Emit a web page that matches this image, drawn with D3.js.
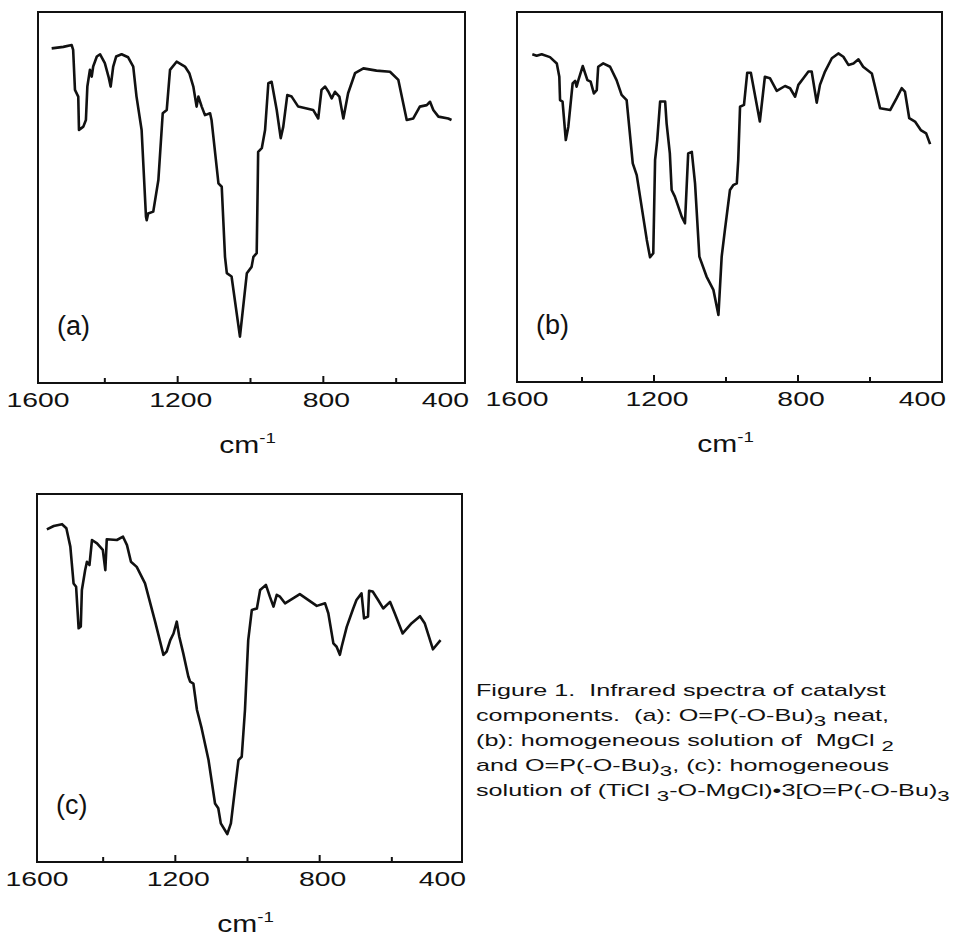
<!DOCTYPE html>
<html>
<head>
<meta charset="utf-8">
<script src="https://cdn.jsdelivr.net/npm/d3@7"></script>
<style>
  body { margin: 0; background: #fff; }
  text { font-family: "Liberation Sans", Arial, Helvetica, sans-serif; fill: #111; white-space: pre; }
</style>
</head>
<body>
<div id="chart"></div>
<script>
// IR spectra: wavenumber (cm-1) and relative transmittance (0-100)
var wnA = [1546,1514,1491,1487,1482,1473,1471,1459,1452,1448,1441,1436,1432,1422,1413,1400,1390,1384,1377,1369,1354,1336,1322,1313,1299,1287,1285,1281,1267,1253,1241,1230,1221,1203,1180,1168,1157,1148,1143,1134,1125,1111,1107,1088,1079,1070,1065,1052,1029,1010,997,992,983,980,979,969,960,951,942,928,917,910,899,887,869,828,814,805,795,786,777,768,756,745,732,713,690,654,617,594,571,553,535,516,507,498,484,457,448];
var tA = [90.2,90.6,91.1,89.8,79.0,77.2,68.2,69.1,70.9,79.9,84.4,82.6,85.3,88.0,88.6,86.2,82.6,79.9,85.3,88.0,88.6,87.8,85.3,77.2,68.2,44.8,43.9,45.7,46.2,54.7,72.7,73.6,84.4,86.6,85.3,83.5,79.9,74.5,77.2,74.5,72.2,72.7,70.9,53.8,52.9,34.0,29.6,28.7,12.5,29.6,31.3,34.0,35.0,54.7,62.3,63.3,68.2,80.8,81.2,73.6,66.0,69.1,77.6,77.2,74.5,73.6,71.3,79.0,79.9,78.5,76.7,78.5,77.2,71.3,78.1,83.5,84.8,84.2,83.9,81.7,70.9,71.3,74.5,74.9,75.8,73.6,71.8,71.3,70.9];

var wnB = [1538,1526,1512,1489,1470,1463,1461,1454,1445,1438,1426,1419,1415,1410,1398,1385,1376,1367,1359,1355,1341,1322,1304,1290,1276,1259,1248,1220,1211,1202,1197,1191,1183,1169,1165,1156,1151,1142,1123,1114,1105,1095,1086,1074,1054,1035,1021,1012,1003,989,980,970,966,961,950,941,931,906,892,878,859,836,822,808,799,785,771,762,753,748,739,725,706,688,674,660,646,632,619,595,586,572,544,526,512,503,491,475,459,444,433];
var tB = [88.6,88.2,88.6,87.8,86.1,82.5,76.2,75.8,65.4,69.0,80.7,81.4,79.8,81.6,85.4,81.6,81.2,78.0,78.9,85.2,86.1,85.2,81.6,77.6,76.2,59.1,55.9,38.4,33.7,34.8,60,65.4,75.8,75.8,69.9,61.8,51.9,50.1,44.7,42.9,61.8,62.2,53.7,33.9,28.5,24.9,18.1,33.9,41.1,51.9,53.2,53.7,60,74.4,74.9,83.6,83.6,70.4,82.5,82.1,78.7,80,79.4,77.1,80.3,82.1,83.9,83.9,78.5,75.5,80.3,83.9,87.5,88.8,87.9,85.7,86.1,87.2,85.2,83.4,79.8,74.0,73.5,76.7,79.4,78.5,71.3,70.4,68.1,67.2,64.3];

var wnC = [1556,1537,1514,1502,1491,1482,1475,1468,1462,1459,1450,1445,1438,1431,1417,1401,1394,1390,1362,1345,1334,1323,1307,1284,1256,1233,1224,1214,1205,1196,1189,1178,1164,1159,1150,1140,1127,1108,1090,1081,1074,1056,1046,1035,1025,1016,1007,998,988,974,965,949,938,928,919,910,896,855,808,785,776,762,753,744,739,725,707,698,684,677,666,663,653,638,624,605,592,570,545,522,509,486,465];
var tC = [90.4,91.3,91.8,90.7,85.7,75.7,74.8,63.5,64.0,73.9,79.3,81.6,80.7,87.5,86.6,84.8,79.3,87.7,87.5,88.4,86.1,81.6,80.2,75.7,65.3,56.3,57.2,60.3,62.1,65.3,61.2,56.7,50.4,49.0,48.5,41.3,36.3,27.7,15.9,14.6,10.5,7.6,10.5,19.6,27.7,28.6,41.3,60.3,68.5,68.9,73.9,75.3,72.1,69.4,72.6,72.1,70.3,72.8,69.6,70.3,67.6,59.4,58.5,56.3,58.5,63.9,68.9,71.2,73.0,66.2,66.7,73.7,73.5,71.2,68.9,70.7,67.6,62.1,64.9,66.8,64.9,57.8,60.3];

var tickValues = [1400, 1200, 1000, 800, 600];
var tickLabels = ["1600", "1200", "800", "400"];
var panelNames = ["(a)", "(b)", "(c)"];

// Set the dimensions of the canvas
var width = 954, height = 942;

// panel frames (pixels) and where 1600 / 400 cm-1 fall
var panels = [
  {name: panelNames[0], wn: wnA, t: tA, left: 38,  right: 465, top: 12,  bottom: 383, r0: 32,  r1: 469},
  {name: panelNames[1], wn: wnB, t: tB, left: 517, right: 942, top: 12,  bottom: 382, r0: 510, r1: 942},
  {name: panelNames[2], wn: wnC, t: tC, left: 37,  right: 462, top: 494, bottom: 862, r0: 31,  r1: 464}
];

var svg = d3.select("#chart")
  .append("svg")
    .attr("width", width)
    .attr("height", height);

svg.append("rect")
    .attr("width", width)
    .attr("height", height)
    .attr("fill", "#fff");

panels.forEach(function(p) {
  var x = d3.scaleLinear().domain([1600, 400]).range([p.r0, p.r1]);
  var y = d3.scaleLinear().domain([0, 100]).range([p.bottom, p.top]);

  var g = svg.append("g");

  // frame
  g.append("rect")
      .attr("x", p.left)
      .attr("y", p.top)
      .attr("width", p.right - p.left)
      .attr("height", p.bottom - p.top)
      .attr("fill", "none")
      .attr("stroke", "#111")
      .attr("stroke-width", 2);

  // ticks point up into the frame
  g.selectAll("line.tick")
    .data(tickValues)
    .enter().append("line")
      .attr("class", "tick")
      .attr("x1", function(d) { return x(d); })
      .attr("x2", function(d) { return x(d); })
      .attr("y1", p.bottom)
      .attr("y2", function(d) { return p.bottom - (d % 400 === 0 ? 7 : 5); })
      .attr("stroke", "#111")
      .attr("stroke-width", 2);

  // tick labels: 1600 at the left edge, 400 flush right
  g.selectAll("text.tl")
    .data(tickLabels)
    .enter().append("text")
      .attr("class", "tl")
      .attr("transform", function(d) {
        var px = d === "1600" ? p.left : d === "400" ? p.right + 4 : x(+d) + 3;
        return "translate(" + px + "," + (p.bottom + 24) + ") scale(1.35,1)";
      })
      .attr("text-anchor", function(d) { return d === "400" ? "end" : "middle"; })
      .style("font-size", "21px")
      .text(function(d) { return d; });

  // axis title
  var t = g.append("text")
      .attr("transform", "translate(" + ((p.left + p.right) / 2 - 4) + "," + (p.bottom + 70) + ") scale(1.25,1)")
      .attr("text-anchor", "middle")
      .style("font-size", "24px");
  t.append("tspan").text("cm");
  t.append("tspan").attr("dy", -10).style("font-size", "15px").text("-1");

  // panel letter
  g.append("text")
      .attr("x", p.left + 19)
      .attr("y", p.bottom - 48)
      .style("font-size", "27px")
      .text(p.name);

  // spectrum
  var pts = p.wn.map(function(w, i) { return {wn: w, t: p.t[i]}; });
  var line = d3.line()
      .x(function(d) { return x(d.wn); })
      .y(function(d) { return y(d.t); });

  g.append("path")
      .datum(pts)
      .attr("d", line)
      .attr("fill", "none")
      .attr("stroke", "#111")
      .attr("stroke-width", 2.6)
      .attr("stroke-linejoin", "round");
});

// caption, segments flagged 1 are subscripts
var caption = [
  [["Figure 1.  Infrared spectra of catalyst"]],
  [["components.  (a): O=P(-O-Bu)"], ["3", 1], [" neat,"]],
  [["(b): homogeneous solution of  MgCl "], ["2", 1]],
  [["and O=P(-O-Bu)"], ["3", 1], [", (c): homogeneous"]],
  [["solution of (TiCl "], ["3", 1], ["-O-MgCl)\u20223[O=P(-O-Bu)"], ["3", 1]]
];

var cap = svg.append("g");
caption.forEach(function(segs, i) {
  var txt = cap.append("text")
      .attr("transform", "translate(476," + (696 + i * 25) + ") scale(1.48,1)")
      .style("font-size", "17px");
  var low = false;
  segs.forEach(function(s) {
    var sub = s[1] === 1;
    var ts = txt.append("tspan").text(s[0]);
    if (sub) { ts.attr("dy", 5).style("font-size", "15px"); low = true; }
    else if (low) { ts.attr("dy", -5); low = false; }
  });
});
</script>
</body>
</html>
